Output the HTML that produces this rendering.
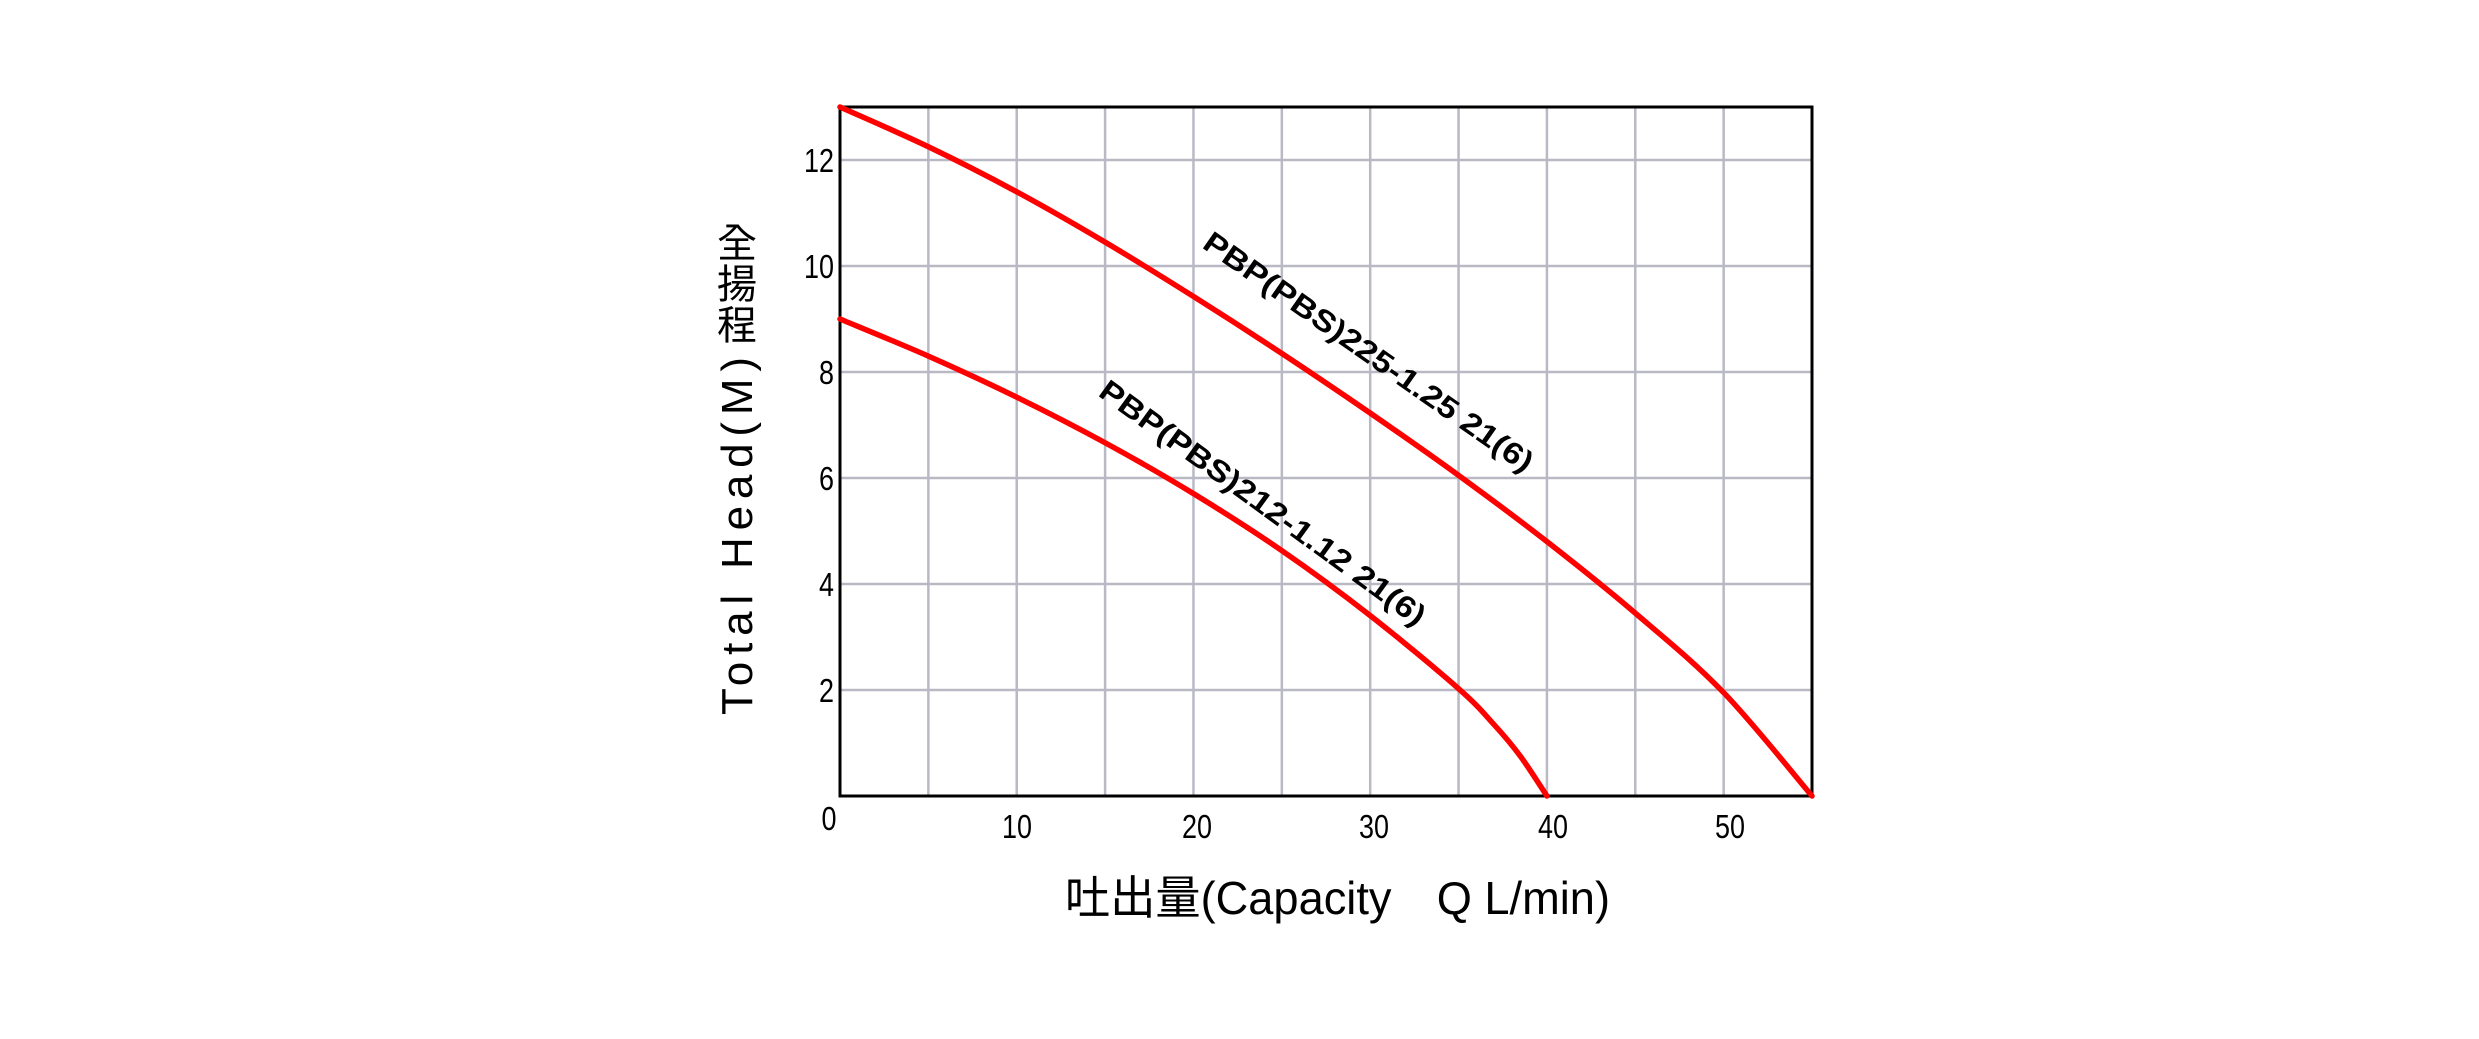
<!DOCTYPE html>
<html><head><meta charset="utf-8">
<style>
html,body{margin:0;padding:0;background:#fff;}
svg{display:block;}
</style></head>
<body>
<svg id="s" width="2479" height="1039" viewBox="0 0 2479 1039" xmlns="http://www.w3.org/2000/svg">
<rect width="2479" height="1039" fill="#fff"/>
<g stroke="#b9b9c6" stroke-width="2.5" id="grid"></g>
<rect x="840" y="107" width="972" height="689" fill="none" stroke="#000" stroke-width="3"/>
<g font-family="'Liberation Sans', 'DejaVu Sans', sans-serif" font-size="33" fill="#000" id="ticks"></g>
<path id="c1" fill="none" stroke="#ff0000" stroke-width="5.5" stroke-linecap="round"/>
<path id="c2" fill="none" stroke="#ff0000" stroke-width="5.5" stroke-linecap="round"/>
<text transform="translate(1201,247) rotate(35)" font-family="'Liberation Sans', sans-serif" font-weight="bold" font-size="30" fill="#000" textLength="395" lengthAdjust="spacingAndGlyphs">PBP(PBS)225-1.25 21(6)</text>
<text transform="translate(1097,395) rotate(36)" font-family="'Liberation Sans', sans-serif" font-weight="bold" font-size="30" fill="#000" textLength="395" lengthAdjust="spacingAndGlyphs">PBP(PBS)212-1.12 21(6)</text>
<text x="1065" y="914" font-family="'Liberation Sans', 'Noto Sans CJK TC', sans-serif" font-size="46" fill="#000" textLength="545" lengthAdjust="spacingAndGlyphs">吐出量(Capacity　Q L/min)</text>
<text transform="translate(752,715) rotate(-90)" font-family="'Liberation Sans', sans-serif" font-size="44" fill="#000" textLength="358" lengthAdjust="spacing">Total  Head(M)</text>
<g font-family="'Noto Sans CJK TC', 'WenQuanYi Zen Hei', sans-serif" font-size="40" fill="#000" text-anchor="middle">
<text x="737" y="257">全</text>
<text x="737" y="298">揚</text>
<text x="737" y="339">程</text>
</g>
</svg>
<script>
var X=function(x){return 840+17.673*x}, Y=function(v){return 796-53*v};
var g=document.getElementById('grid'), t=document.getElementById('ticks'), ns='http://www.w3.org/2000/svg';
for(var i=5;i<55;i+=5){var l=document.createElementNS(ns,'line');l.setAttribute('x1',X(i));l.setAttribute('x2',X(i));l.setAttribute('y1',107);l.setAttribute('y2',796);g.appendChild(l);}
for(var v=2;v<=12;v+=2){var l=document.createElementNS(ns,'line');l.setAttribute('x1',840);l.setAttribute('x2',1812);l.setAttribute('y1',Y(v));l.setAttribute('y2',Y(v));g.appendChild(l);
 var tx=document.createElementNS(ns,'text');tx.setAttribute('x',834);tx.setAttribute('y',Y(v)+12);tx.setAttribute('text-anchor','end');tx.setAttribute('textLength',String(v).length*15);tx.setAttribute('lengthAdjust','spacingAndGlyphs');tx.textContent=v;t.appendChild(tx);}
var xs=[[0,829],[10,1017],[20,1197],[30,1374],[40,1553],[50,1730]];
xs.forEach(function(a){var tx=document.createElementNS(ns,'text');tx.setAttribute('x',a[1]);tx.setAttribute('y',a[0]==0?830:838);tx.setAttribute('text-anchor','middle');tx.setAttribute('textLength',String(a[0]).length*15);tx.setAttribute('lengthAdjust','spacingAndGlyphs');tx.textContent=a[0];t.appendChild(tx);});
function path(pts){var p=pts.map(function(q){return [X(q[0]),Y(q[1])]});var d='M'+p[0][0]+','+p[0][1];
 for(var i=0;i<p.length-1;i++){var p0=p[i-1]||p[i],p1=p[i],p2=p[i+1],p3=p[i+2]||p2;
  d+=' C'+(p1[0]+(p2[0]-p0[0])/6)+','+(p1[1]+(p2[1]-p0[1])/6)+' '+(p2[0]-(p3[0]-p1[0])/6)+','+(p2[1]-(p3[1]-p1[1])/6)+' '+p2[0]+','+p2[1];}
 return d;}
document.getElementById('c1').setAttribute('d',path([[0,13],[5,12.25],[10,11.4],[15,10.45],[20,9.425],[25,8.35],[30,7.225],[35,6.05],[40,4.8],[45,3.45],[50,1.95],[55,0]]));
document.getElementById('c2').setAttribute('d',path([[0,9],[5,8.3],[10,7.525],[15,6.665],[20,5.705],[25,4.63],[30,3.405],[35,2.025],[37,1.35],[38.5,0.75],[40,0]]));
</script>
</body></html>
